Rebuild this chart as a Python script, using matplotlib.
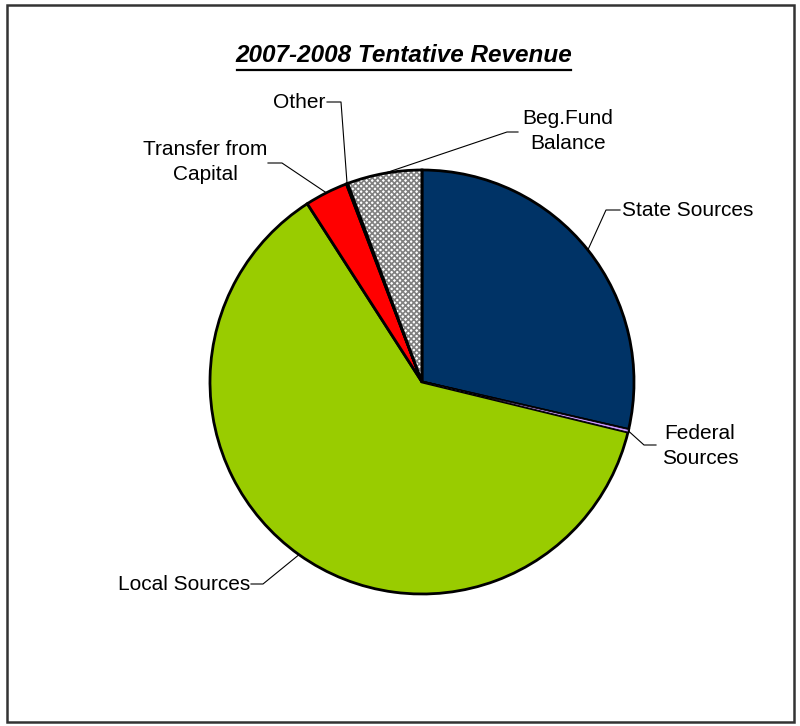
import numpy as np
import matplotlib
matplotlib.use("Agg")
import matplotlib.pyplot as plt
from matplotlib.patches import Wedge, Rectangle

plt.rcParams['font.family'] = ['Liberation Sans', 'DejaVu Sans']
plt.rcParams['hatch.linewidth'] = 1.2

# revenue shares (percent of total), clockwise from 12 o'clock
categories = ['State Sources', 'Federal\nSources', 'Local Sources',
              'Transfer from\nCapital', 'Other', 'Beg.Fund\nBalance']
shares = [28.6, 0.2, 62.1, 3.3, 0.1, 5.7]
colors = ['#003366', '#cc99ff', '#99cc00', '#ff0000', '#ffffff', '#ffffff']

W, H = 800, 726
fig = plt.figure(figsize=(8, 7.26), dpi=100)
ax = fig.add_axes([0, 0, 1, 1])

def Y(py):
    # pixel row (top-down) -> data y (bottom-up)
    return H - py

cx, cy, R = 422, Y(382), 212

wedges, _ = ax.pie(shares, colors=colors, startangle=90, counterclock=False,
                   center=(cx, cy), radius=R, frame=True,
                   wedgeprops=dict(edgecolor='black', linewidth=2.0))
ax.set_xlim(0, W)
ax.set_ylim(0, H)
ax.set_aspect('auto')
ax.axis('off')

# checkered fill for the fund balance slice, outline redrawn on top
beg = wedges[5]
beg.set_hatch('xxxxxx')
beg.set_edgecolor('#808080')
beg.set_linewidth(0.5)
ax.add_patch(Wedge((cx, cy), R, beg.theta1, beg.theta2, fill=False,
                   edgecolor='black', linewidth=2.0, zorder=3))

# thin federal sliver drawn on top so its colour shows
fed = wedges[1]
ax.add_patch(Wedge((cx, cy), R, fed.theta1, fed.theta2, facecolor='#cc99ff',
                   edgecolor='black', linewidth=0.6, zorder=3))

# label text anchor, alignment and elbow point of each leader line
label_pos = [(622, 210, 'left'), (700, 446, 'center'), (250, 584, 'right'),
             (205, 162, 'center'), (325, 102, 'right'), (568, 131, 'center')]
elbows = [[(606, 210), (620, 210)],
          [(644, 445), (656, 445)],
          [(263, 584), (251, 584)],
          [(282, 163), (268, 163)],
          [(341, 102), (327, 102)],
          [(507, 132), (518, 132)]]

for w, lab, (lx, ly, ha), el in zip(wedges, categories, label_pos, elbows):
    mid = np.deg2rad((w.theta1 + w.theta2) / 2)
    ex, ey = cx + R * np.cos(mid), cy + R * np.sin(mid)
    xs = [ex] + [p[0] for p in el]
    ys = [ey] + [Y(p[1]) for p in el]
    ax.plot(xs, ys, color='black', linewidth=0.8, zorder=4)
    ax.text(lx, Y(ly), lab, ha=ha, va='center', fontsize=15,
            linespacing=1.45, color='black')

# title with underline
title = ax.text(404, Y(55), '2007-2008 Tentative Revenue', ha='center',
                va='center', fontsize=17.5, fontweight='bold', fontstyle='italic')
fig.canvas.draw()
bb = title.get_window_extent().transformed(ax.transData.inverted())
ax.plot([bb.x0 + 1, bb.x1 - 1], [Y(70), Y(70)], color='black', linewidth=1.6)

# chart area border
ax.add_patch(Rectangle((7, Y(722)), 787, 717, fill=False,
                       edgecolor='#333333', linewidth=1.8))

fig.savefig('out.png', dpi=100)
